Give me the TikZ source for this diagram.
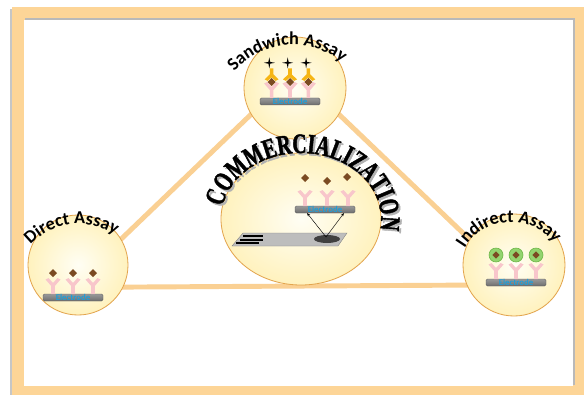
\documentclass[tikz,border=0pt]{standalone}
\usepackage{fontspec}
\newfontfamily\labelfont{Carlito}
\newfontfamily\commfont[FakeStretch=0.7, FakeBold=1.5]{Liberation Serif}
\usetikzlibrary{shapes.geometric,decorations.text,arrows.meta,calc}

\definecolor{frameorange}{HTML}{FDD597}
\definecolor{linkorange}{HTML}{FAD093}
\definecolor{circedge}{HTML}{E3A54E}
\definecolor{circinner}{HTML}{FFFEF4}
\definecolor{circouter}{HTML}{FFF2BE}
\definecolor{abpink}{HTML}{F8C6CB}
\definecolor{agbrown}{HTML}{7B4B22}
\definecolor{detyellow}{HTML}{F6B514}
\definecolor{beadgreen}{HTML}{93D46F}
\definecolor{beadring}{HTML}{6DB546}
\definecolor{elecgrey}{HTML}{6E6E6E}
\definecolor{elecblue}{HTML}{1E9ED8}
\definecolor{stripgrey}{HTML}{BDBDBD}

\pgfdeclarelayer{frame}
\pgfdeclarelayer{links}
\pgfsetlayers{frame,links,main}

\tikzset{
  assay/.style={circle, draw=circedge, line width=0.7pt, inner color=circinner,
    outer color=circouter, minimum size=3cm},
  link/.style={linkorange, line width=4.2pt, shorten <=-6pt, shorten >=-6pt},
  curved/.style={decorate, decoration={text along path, text align=center, text={#1}}},
  antibody/.pic={
    \fill[abpink] (-1.8,0) -- (-1.8,8) -- (-7.5,14.5) -- (-4.5,16) -- (0,11)
      -- (4.5,16) -- (7.5,14.5) -- (1.8,8) -- (1.8,0) -- cycle;
  },
  detector/.pic={
    \fill[detyellow] (-1.8,0) -- (-1.8,-6) -- (-7,-11) -- (-4,-12.5) -- (0,-9)
      -- (4,-12.5) -- (7,-11) -- (1.8,-6) -- (1.8,0) -- cycle;
  },
  antigen/.pic={
    \fill[agbrown] (0,-4) -- (4,0) -- (0,4) -- (-4,0) -- cycle;
  },
  bead/.pic={
    \fill[beadgreen, draw=beadring, line width=0.5pt] (0,0) circle (7);
    \fill[agbrown] (0,-3.6) -- (3.6,0) -- (0,3.6) -- (-3.6,0) -- cycle;
  },
  label/.pic={
    \fill (0,5.5) -- (0.9,0.9) -- (5.5,0) -- (0.9,-0.9) -- (0,-5.5)
      -- (-0.9,-0.9) -- (-5.5,0) -- (-0.9,0.9) -- cycle;
  },
  electrode/.pic={
    \shade[rounded corners=1.2pt, top color=elecgrey!70, bottom color=elecgrey,
      draw=elecgrey!80!black, line width=0.4pt] (-30,-7) rectangle (30,0);
    \node[inner sep=0pt, text=elecblue, font=\labelfont\bfseries\fontsize{7.5}{7.5}\selectfont]
      (-txt) at (0,-3.4) {Electrode};
  }
}
\newcommand\titlefont{\labelfont\bfseries\fontsize{15.5}{15.5}\selectfont}
\newcommand\bigfont{\commfont\bfseries\fontsize{24}{24}\selectfont}

\begin{document}
\begin{tikzpicture}[x=0.03cm, y=0.03cm]
\useasboundingbox (0,0) rectangle (584,-395);
\begin{pgfonlayer}{frame}
  \fill[white] (0,0) rectangle (584,-395);
  \fill[gray!45] (10,-9) rectangle (584,-395);
  \fill[frameorange] (12,-7) rectangle (584,-395);
  \fill[gray!55] (25,-18) rectangle (575,-385);
  \fill[white] (24,-20) rectangle (573,-386);
\end{pgfonlayer}

% the four circles
\node[assay, minimum size=3.06cm] (sand) at (295,-88) {};
\node[assay] (direct) at (78,-265) {};
\node[assay, minimum size=3.06cm] (indirect) at (514,-265) {};
\node[assay, ellipse, minimum width=4.8cm, minimum height=3.96cm] (comm) at (301,-219) {};

\begin{pgfonlayer}{links}
  \draw[link] (sand.211) -- (direct.31);
  \draw[link] (sand.329) -- (indirect.150);
  \draw[link] (direct.334) -- (indirect.203);
\end{pgfonlayer}

% titles
\path[curved={|\titlefont|Sandwich Assay}]
  ($(sand.center)+(-2,-34)$) ++(155:77) arc[start angle=155, end angle=35, radius=77];
\path[curved={|\titlefont|Direct Assay}]
  ($(direct.center)+(1,-25)$) ++(160:66) arc[start angle=160, end angle=34, radius=66];
\path[curved={|\titlefont|Indirect Assay}]
  ($(indirect.center)+(-3,-11)$) ++(170:54) arc[start angle=170, end angle=16, radius=54];
\path[curved={|\bigfont\color{gray!60}|COMMERCIALIZATION}]
  ($(comm.center)+(2,-2)$) ++(185:80 and 66) arc[start angle=185, end angle=-25, x radius=80, y radius=66];
\path[curved={|\bigfont|COMMERCIALIZATION}]
  (comm.center) ++(185:80 and 66) arc[start angle=185, end angle=-25, x radius=80, y radius=66];

% direct assay
\begin{scope}[shift={(73,-294)}]
  \pic (dir) at (0,0) {electrode};
  \foreach \x in {-20,0,20} {
    \pic at (\x,0) {antibody};
    \pic at (\x,21) {antigen};
  }
\end{scope}

% sandwich assay
\begin{scope}[shift={(290,-98)}, xscale=0.92, yscale=0.8]
  \pic (sw) at (0,0) {electrode};
  \foreach \x in {-20,0,20} {
    \pic at (\x,0) {antibody};
    \pic at (\x,20) {antigen};
    \pic at (\x,37) {detector};
    \pic at (\x-2.5,44) {label};
  }
\end{scope}

% indirect assay
\begin{scope}[shift={(516,-279)}]
  \pic (ind) at (0,0) {electrode};
  \foreach \x in {-20,0,20} {
    \pic at (\x,0) {antibody};
    \pic at (\x,24) {bead};
  }
\end{scope}

% test strip and read-out
\fill[stripgrey, draw=gray, line width=0.3pt] (243,-233) -- (347,-233) -- (338,-246) -- (232,-246) -- cycle;
\draw[line width=1.7pt] (243,-235.8) -- (263,-235.8);
\draw[line width=1.7pt] (239.5,-239.6) -- (263,-239.6);
\draw[line width=1.7pt] (236,-243.4) -- (259,-243.4);
\fill[gray!50!black] (327,-239) ellipse[x radius=13, y radius=4];
\coordinate (spot) at (326,-237);
\coordinate (tipl) at (307,-213);
\coordinate (tipr) at (344,-213);
\draw[-{Stealth[length=3pt]}, line width=0.4pt] (spot) -- (tipl);
\draw[-{Stealth[length=3pt]}, line width=0.4pt] (spot) -- (tipr);
\begin{scope}[shift={(325,-206)}]
  \pic (cen) at (0,0) {electrode};
  \foreach \x in {-20,2,23} \pic at (\x,0) {antibody};
  \pic at (-20,28) {antigen};
  \pic at (2,25) {antigen};
  \pic at (22,29) {antigen};
\end{scope}
\end{tikzpicture}
\end{document}
